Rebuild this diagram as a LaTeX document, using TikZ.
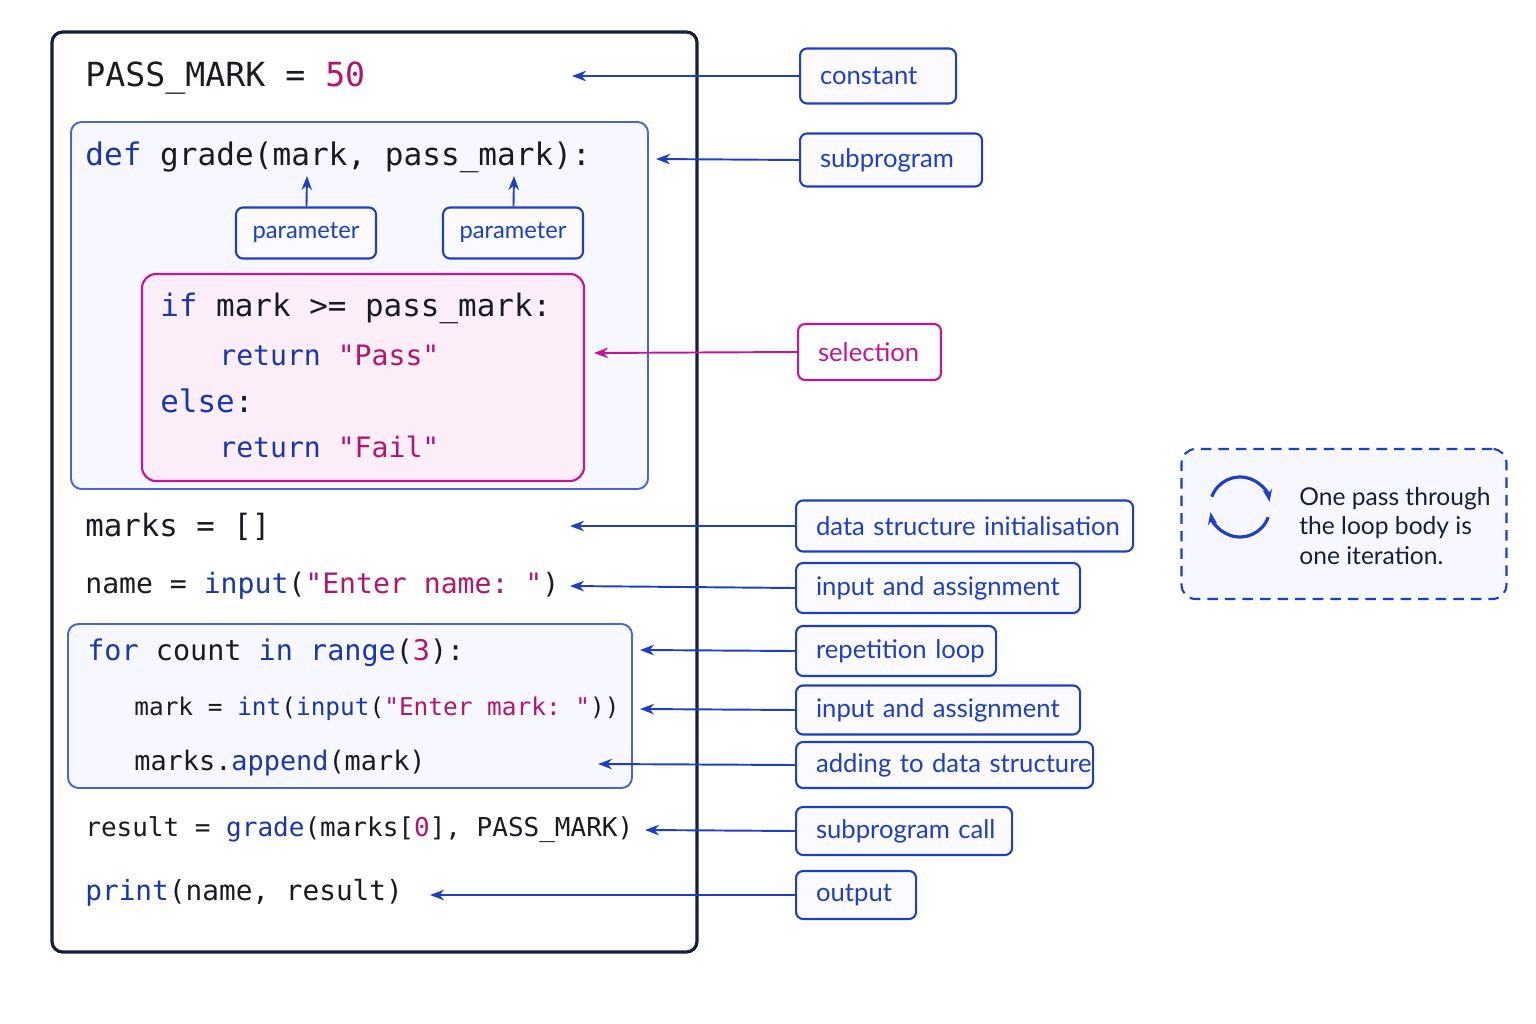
\documentclass[tikz,border=0pt]{standalone}
\usepackage{fontspec}
\setmainfont{Lato}
\setmonofont{DejaVu Sans Mono}
\usetikzlibrary{arrows.meta,calc}
\definecolor{navy}{HTML}{14203A}
\definecolor{kwblue}{HTML}{1A36A8}
\definecolor{strmag}{HTML}{B0166E}
\definecolor{lblblue}{HTML}{1F3FBF}
\definecolor{selmag}{HTML}{C2169A}
\definecolor{codeblk}{HTML}{1A1A24}
\definecolor{selfill}{HTML}{FCEEF8}
\hfuzz=100pt
\tikzset{>={Stealth[length=8pt,width=6pt]}}
\tikzstyle{codeline}=[anchor=west,inner sep=0,text=codeblk]
\tikzstyle{tag}=[draw=lblblue,line width=1.2pt,rounded corners=4pt,fill=blue!2,text=lblblue,inner ysep=0,inner xsep=0.4cm,align=left,font=\fontsize{14.6}{16}\selectfont]
\tikzstyle{seltag}=[tag,draw=selmag,text=selmag,fill=white]
\tikzstyle{link}=[->,draw=lblblue,line width=1.1pt]
\newcommand\kw[1]{\textcolor{kwblue}{#1}}
\newcommand\st[1]{\textcolor{strmag}{#1}}
\newcommand\cs[1]{\fontsize{#1}{#1}\selectfont\ttfamily}
\begin{document}
\begin{tikzpicture}[x=0.02cm,y=-0.02cm]
	\useasboundingbox[fill=white] (0,0) rectangle (1536,1024);

	% code frames
	\draw[navy,line width=1.8pt,rounded corners=6pt] (52,32) rectangle (697,952);
	\draw[lblblue!80,line width=1.1pt,fill=blue!3,rounded corners=6pt] (71,122) rectangle (648,489);
	\draw[selmag,line width=1.2pt,fill=selfill,rounded corners=8pt] (142,274) rectangle (584,481);
	\draw[lblblue!80,line width=1.1pt,fill=blue!3,rounded corners=6pt] (68,624) rectangle (632,788);

	% code
	\node[codeline] (c1) at (85,78) {\cs{18.9}PASS\_MARK = \st{50}};
	\node[codeline] (c2) at (85,157) {\cs{17.7}\kw{def} grade(mark, pass\_mark):};
	\node[codeline] (c3) at (160,308) {\cs{17.6}\kw{if} mark >= pass\_mark:};
	\node[codeline] (c4) at (219,355) {\cs{16}\kw{return} \st{"Pass"}};
	\node[codeline] (c5) at (160,401) {\cs{17.6}\kw{else}:};
	\node[codeline] (c6) at (219,447) {\cs{16}\kw{return} \st{"Fail"}};
	\node[codeline] (c7) at (85,527) {\cs{17.5}marks = []};
	\node[codeline] (c8) at (85,586) {\cs{16}name = \kw{input}(\st{"Enter name: "})};
	\node[codeline] (c9) at (87,653) {\cs{16.2}\kw{for} count \kw{in} \kw{range}(\st{3}):};
	\node[codeline] (c10) at (134,709) {\cs{13.9}mark = \kw{int}(\kw{input}(\st{"Enter mark: "}))};
	\node[codeline] (c11) at (134,763) {\cs{15.3}marks.\kw{append}(mark)};
	\node[codeline] (c12) at (85,830) {\cs{14.8}result = \kw{grade}(marks[\st{0}], PASS\_MARK)};
	\node[codeline] (c13) at (85,893) {\cs{15.8}\kw{print}(name, result)};

	% parameters
	\node[tag,inner xsep=0,align=center,font=\fontsize{13.5}{15}\selectfont,minimum width=2.8cm,minimum height=1.02cm] (p1) at (306,233) {parameter};
	\node[tag,inner xsep=0,align=center,font=\fontsize{13.5}{15}\selectfont,minimum width=2.8cm,minimum height=1.02cm] (p2) at (513,233) {parameter};
	\coordinate (pm1) at (307,176);
	\coordinate (pm2) at (514,176);
	\draw[link] (p1) -- (pm1);
	\draw[link] (p2) -- (pm2);

	% annotations
	\foreach \name/\x/\y/\w/\h/\tx/\ty/\txt in {
		constant/799/76/156/55/572/76/constant,
		subprog/799/160/182/53/656/159/subprogram,
		dsinit/795/526/337/51/570/526/data structure initialisation,
		inpa/795/588/284/50/570/586/input and assignment,
		reploop/795/651/200/50/640/650/repetition loop,
		inpb/795/710/284/49/640/709/input and assignment,
		adding/795/765/297/46/598/764/adding to data structure,
		subcall/795/831/216/48/645/830/subprogram call,
		output/795/895/120/48/430/895/output} {
		\node[tag,anchor=west,text width=\w*0.02cm-0.8cm,minimum height=\h*0.02cm] (\name) at (\x,\y) {\mbox{\txt}};
		\coordinate (\name end) at (\tx,\ty);
		\draw[link] (\name.west) -- (\name end);
	};
	\node[seltag,anchor=west,text width=2.86cm-0.8cm,minimum height=1.12cm] (sel) at (797,352) {\mbox{selection}};
	\coordinate (selend) at (594,353);
	\draw[link,draw=selmag] (sel.west) -- (selend);

	% note
	\node[draw=lblblue,line width=1.2pt,dash pattern=on 6pt off 4pt,rounded corners=8pt,fill=blue!3,minimum width=6.5cm,minimum height=3cm] (note) at (1344,524) {};
	\node[anchor=west,align=left,text=navy,inner sep=0,font=\fontsize{14}{16.8}\selectfont] (notetxt) at (1299,526) {One pass through\\the loop body is\\one iteration.};
	\coordinate (ic) at (1240,507);
	\draw[lblblue,line width=1.8pt,-{Stealth[length=7pt]}] ($(ic)+(20:30)$) arc (20:170:30);
	\draw[lblblue,line width=1.8pt,-{Stealth[length=7pt]}] ($(ic)+(200:30)$) arc (200:350:30);
\end{tikzpicture}
\end{document}
